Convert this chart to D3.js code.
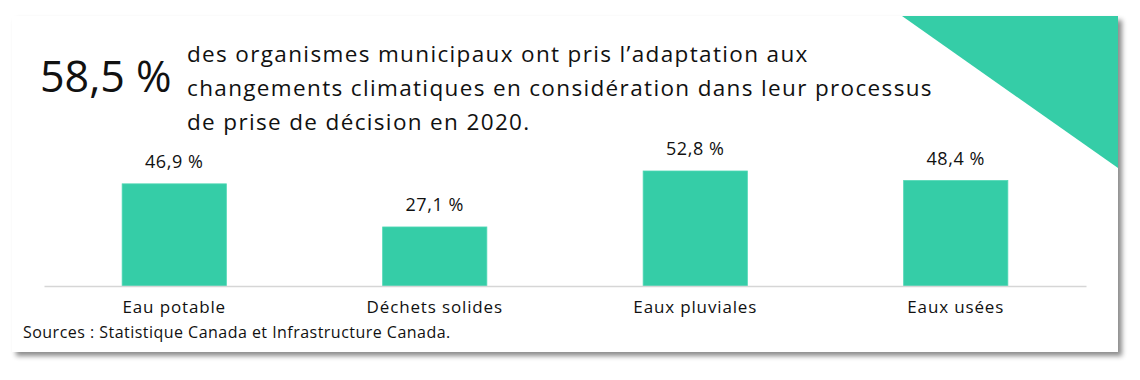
<!DOCTYPE html>
<html><head><meta charset="utf-8">
<script src="https://cdn.jsdelivr.net/npm/d3@7"></script>
<style>
html,body{margin:0;padding:0;background:#fff;}
svg{display:block;font-family:"Open Sans",sans-serif;}
</style></head>
<body>
<svg id="chart" width="1140" height="380"></svg>
<script>
const categories = ["Eau potable", "Déchets solides", "Eaux pluviales", "Eaux usées"];
const values = [46.9, 27.1, 52.8, 48.4];
const valueLabels = ["46,9 %", "27,1 %", "52,8 %", "48,4 %"];
const headline = "58,5 %";
const headlineLines = [
  "des organismes municipaux ont pris l’adaptation aux",
  "changements climatiques en considération dans leur processus",
  "de prise de décision en 2020."
];
const sourceText = "Sources : Statistique Canada et Infrastructure Canada.";

const svg = d3.select("#chart");
const green = "#35cda7";

const defs = svg.append("defs");
const f = defs.append("filter").attr("id","shadow").attr("x","-5%").attr("y","-10%").attr("width","115%").attr("height","130%");
f.append("feDropShadow").attr("dx",4).attr("dy",4).attr("stdDeviation",2.5).attr("flood-color","#000").attr("flood-opacity",0.45);

svg.append("rect").attr("x",12).attr("y",16).attr("width",1106).attr("height",336)
  .attr("fill","#fff").attr("filter","url(#shadow)");

svg.append("path").attr("d","M902,16 L1118,16 L1118,168 Z").attr("fill",green);

svg.append("text").attr("x",40).attr("y",92).attr("font-size",43).attr("fill","#111").text(headline);
svg.append("g").selectAll("text").data(headlineLines).join("text")
  .attr("x",187).attr("y",(d,i)=>62+i*34).attr("font-size",22.5).attr("letter-spacing",1.35)
  .attr("fill","#111").text(d=>d);

const x = d3.scaleBand().domain(categories).range([44,1086]).paddingInner(0.6).paddingOuter(0.3);
const y = d3.scaleLinear().domain([0,52.8]).range([286,171]);

svg.append("g").selectAll("rect").data(values).join("rect")
  .attr("x",(d,i)=>x(categories[i])).attr("width",x.bandwidth())
  .attr("y",d=>y(d)).attr("height",d=>y(0)-y(d))
  .attr("fill",green).attr("stroke","#4fd8b4").attr("stroke-width",0.8);

svg.append("g").selectAll("text").data(values).join("text")
  .attr("x",(d,i)=>x(categories[i])+x.bandwidth()/2).attr("y",d=>y(d)-16)
  .attr("text-anchor","middle").attr("font-size",18).attr("letter-spacing",0.6).attr("fill","#111")
  .text((d,i)=>valueLabels[i]);

const xAxis = d3.axisBottom(x).tickSize(0).tickPadding(15);
const ax = svg.append("g").attr("transform","translate(0,286)").call(xAxis);
ax.select(".domain").attr("stroke","#d6d6d6").attr("stroke-width",1.5);
ax.selectAll(".tick text").attr("font-size",17).attr("letter-spacing",0.85).attr("fill","#111")
  .attr("font-family","'Open Sans',sans-serif").attr("dy","0.71em");

svg.append("text").attr("x",23).attr("y",338).attr("font-size",16).attr("letter-spacing",0.47).attr("fill","#111").text(sourceText);
</script>
</body></html>
